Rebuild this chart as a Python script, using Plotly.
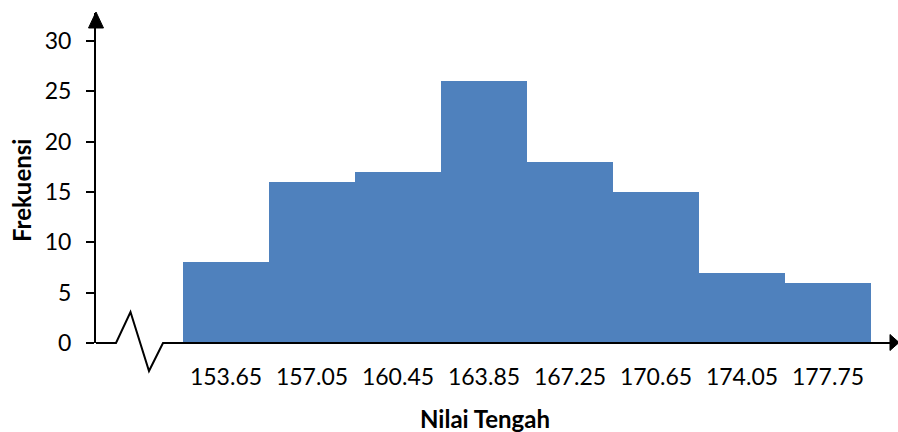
import plotly.graph_objects as go

# Frequency distribution by class midpoint
nilai_tengah = ["153.65", "157.05", "160.45", "163.85", "167.25", "170.65", "174.05", "177.75"]
frekuensi = [8, 16, 17, 26, 18, 15, 7, 6]
y_ticks = [0, 5, 10, 15, 20, 25, 30]

W, H = 898, 432
L, R = 96, 898      # plot area horizontal extent (px)
T, B = 13, 343      # plot area vertical extent (px)

BAR_COLOR = "#4F81BD"
FONT = "Lato"


def px(x):
    return (x - L) / (R - L)


def py(y):
    return (B - y) / (B - T)


idx = list(range(len(frekuensi)))

fig = go.Figure(
    go.Bar(
        x=idx,
        y=frekuensi,
        width=1,
        marker=dict(color=BAR_COLOR, line=dict(width=0)),
        hoverinfo="skip",
    )
)

# x range: bar centres are 86 px apart, first centre at 226 px
x_lo = (L - 226) / 86
x_hi = (R - 226) / 86

fig.update_layout(
    width=W,
    height=H,
    margin=dict(l=L, r=W - R, t=T, b=H - B),
    paper_bgcolor="white",
    plot_bgcolor="white",
    showlegend=False,
    bargap=0,
    font=dict(family=FONT, color="black"),
    xaxis=dict(
        range=[x_lo, x_hi],
        tickvals=idx,
        ticktext=nilai_tengah,
        showline=False,
        showgrid=False,
        zeroline=False,
        ticks="",
        tickfont=dict(size=23, family=FONT),
        ticklabelstandoff=18,
    ),
    yaxis=dict(
        range=[0, 32.77],
        tickvals=y_ticks,
        showline=True,
        linecolor="black",
        linewidth=2,
        showgrid=False,
        zeroline=False,
        ticks="outside",
        ticklen=8,
        tickwidth=2,
        tickcolor="black",
        tickfont=dict(size=23, family=FONT),
        ticklabelstandoff=10,
    ),
)

# horizontal axis with a break mark near the origin
axis_pts = [(96, 343), (116, 343), (130.5, 312), (149, 371), (163, 343), (891, 343)]
path = "M " + " L ".join(f"{px(x):.5f},{py(y):.5f}" for x, y in axis_pts)
fig.add_shape(type="path", path=path, xref="paper", yref="paper",
              line=dict(color="black", width=2))

# arrow heads
x_arrow = [(890, 334.5), (899, 342.5), (890, 350.5)]
y_arrow = [(88.5, 28), (96, 12), (103.5, 28)]
for tri in (x_arrow, y_arrow):
    p = "M " + " L ".join(f"{px(x):.5f},{py(y):.5f}" for x, y in tri) + " Z"
    fig.add_shape(type="path", path=p, xref="paper", yref="paper",
                  fillcolor="black", line=dict(color="black", width=1))

# axis titles
fig.add_annotation(text="<b>Nilai Tengah</b>", x=px(485), y=py(418),
                   xref="paper", yref="paper", showarrow=False,
                   xanchor="center", yanchor="middle",
                   font=dict(size=24, family=FONT))
fig.add_annotation(text="<b>Frekuensi</b>", x=px(22), y=py(191),
                   xref="paper", yref="paper", showarrow=False, textangle=-90,
                   xanchor="center", yanchor="middle",
                   font=dict(size=24, family=FONT))

fig.write_html("out.html")
